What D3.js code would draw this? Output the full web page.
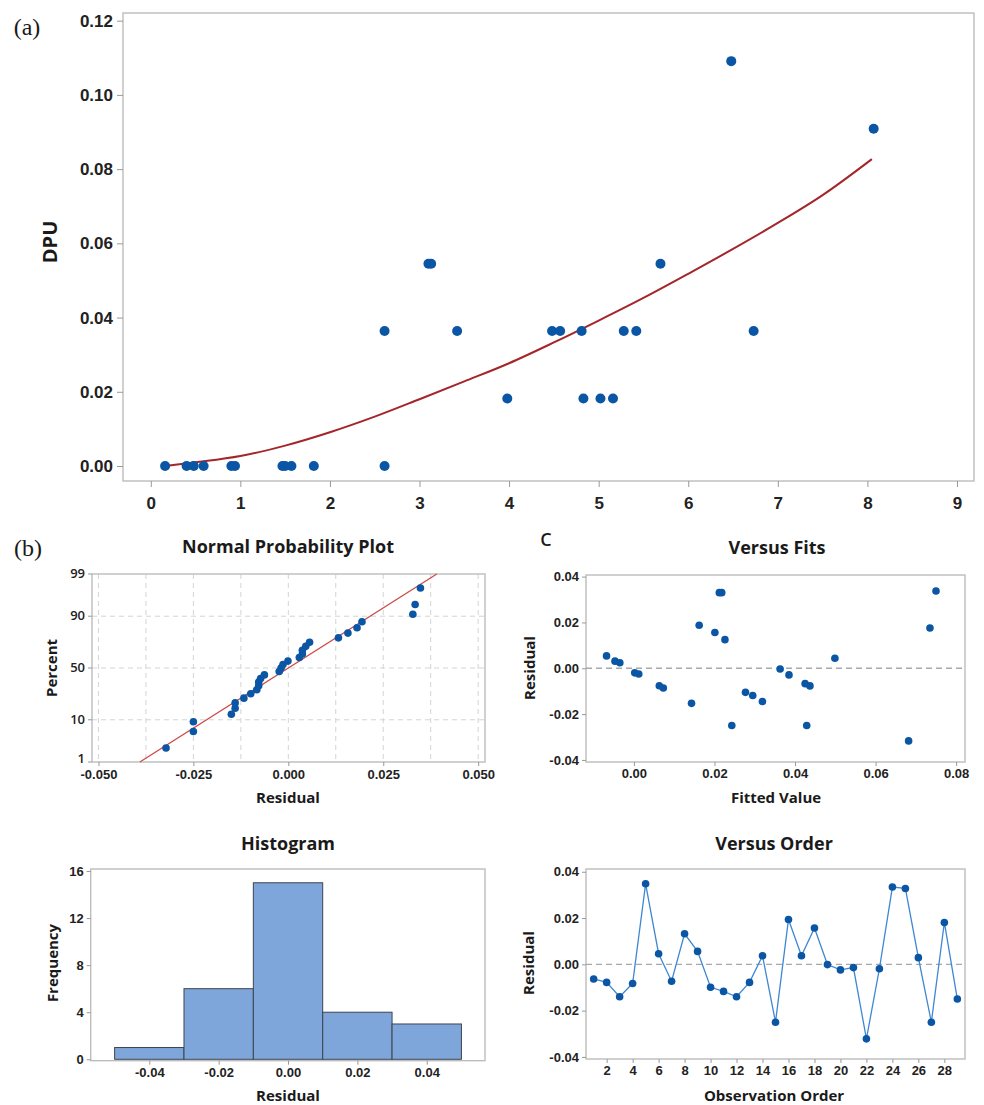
<!DOCTYPE html>
<html>
<head>
<meta charset="utf-8">
<script src="https://cdn.jsdelivr.net/npm/d3@7"></script>
<style>
  body { margin: 0; background: #fff; }
  svg  { display: block; font-family: "Open Sans", "Noto Sans", sans-serif; }
  .tick text { fill: #222; font-weight: 600; }
  .tick line { stroke: #999; }
</style>
</head>
<body>
<svg id="fig" width="984" height="1105"></svg>
<script>
/* ── Data ───────────────────────────────────────────── */
// (a) DPU scatter
const dpuX = [0.16, 0.40, 0.48, 0.59, 0.90, 0.94, 1.47, 1.50, 1.57, 1.82, 2.61, 2.61, 3.10, 3.13,
              3.42, 3.98, 4.48, 4.57, 4.81, 4.83, 5.02, 5.16, 5.28, 5.42, 5.69, 6.48, 6.73, 8.07];
const dpuY = [0, 0, 0, 0, 0, 0, 0, 0, 0, 0, 0, 0.0364, 0.0545, 0.0545,
              0.0364, 0.0182, 0.0364, 0.0364, 0.0364, 0.0182, 0.0182, 0.0182, 0.0364, 0.0364, 0.0545, 0.1091, 0.0364, 0.0909];
// fitted curve (a)
const curveX = [0.16, 0.5, 1, 1.5, 2, 2.5, 3, 3.5, 4, 4.5, 5, 5.5, 6, 6.5, 7, 7.5, 8.05];
const curveY = [0.0000, 0.0010, 0.0027, 0.0055, 0.0091, 0.0133, 0.0180, 0.0228, 0.0277,
                0.0333, 0.0392, 0.0453, 0.0518, 0.0585, 0.0655, 0.0730, 0.0827];
const xTicksA = [0, 1, 2, 3, 4, 5, 6, 7, 8, 9];
const yTicksA = [0, 0.02, 0.04, 0.06, 0.08, 0.10, 0.12];

// residuals in observation order
const residOrder = [-0.0063, -0.0078, -0.0140, -0.0083, 0.0348, 0.0046, -0.0073, 0.0132, 0.0056, -0.0099,
                    -0.0117, -0.0140, -0.0078, 0.0037, -0.0250, 0.0194, 0.0037, 0.0157, -0.0001, -0.0024,
                    -0.0014, -0.0322, -0.0019, 0.0334, 0.0328, 0.0029, -0.0250, 0.0181, -0.0150];

// normal probability plot fit line (residual at 1% and 99%)
const probLineR = [-0.0391, 0.0391];
const probLineP = [1, 99];
const probPctTicks = [1, 10, 50, 90, 99];
const probGridPct  = [10, 50, 90];
const probResTicks = [-0.05, -0.025, 0, 0.025, 0.05];

// versus fits
const fitsFitted = [-0.0068, -0.0047, -0.0035, 0.0002, 0.0012, 0.0063, 0.0073, 0.0143, 0.0162, 0.0201,
                    0.0212, 0.0218, 0.0226, 0.0243, 0.0277, 0.0295, 0.0319, 0.0363, 0.0385, 0.0425,
                    0.0429, 0.0437, 0.0499, 0.0682, 0.0735, 0.0750];
const fitsResid  = [0.0054, 0.0031, 0.0024, -0.0020, -0.0025, -0.0076, -0.0086, -0.0153, 0.0188, 0.0156,
                    0.0330, 0.0330, 0.0125, -0.0250, -0.0105, -0.0119, -0.0145, -0.0003, -0.0029, -0.0067,
                    -0.0250, -0.0077, 0.0044, -0.0317, 0.0176, 0.0337];
const fitsXTicks = [0, 0.02, 0.04, 0.06, 0.08];
const residTicks = [-0.04, -0.02, 0, 0.02, 0.04];

// histogram
const histEdges = [-0.05, -0.03, -0.01, 0.01, 0.03, 0.05];
const histCount = [1, 6, 15, 4, 3];
const histXTicks = [-0.04, -0.02, 0, 0.02, 0.04];
const histYTicks = [0, 4, 8, 12, 16];

// versus order
const orderTicks = d3.range(2, 30, 2);

/* ── Styles ─────────────────────────────────────────── */
const DOT   = '#0b55a5';
const FRAME = '#bdbdbd';
const SERIF = '"Liberation Serif", "DejaVu Serif", serif';
const svg   = d3.select('#fig');

svg.append('rect').attr('width', 984).attr('height', 1105).attr('fill', '#fff');

/* ── Helpers ────────────────────────────────────────── */
// inverse normal CDF (Acklam), used for the probability axis
function probit(p) {
  const a = [-3.969683028665376e+01, 2.209460984245205e+02, -2.759285104469687e+02, 1.383577518672690e+02, -3.066479806614716e+01, 2.506628277459239e+00];
  const b = [-5.447609879822406e+01, 1.615858368580409e+02, -1.556989798598866e+02, 6.680131188771972e+01, -1.328068155288572e+01];
  const c = [-7.784894002430293e-03, -3.223964580411365e-01, -2.400758277161838e+00, -2.549732539343734e+00, 4.374664141464968e+00, 2.938163982698783e+00];
  const d = [7.784695709041462e-03, 3.224671290700398e-01, 2.445134137142996e+00, 3.754408661907416e+00];
  const pl = 0.02425;
  let q, r;
  if (p < pl) {
    q = Math.sqrt(-2 * Math.log(p));
    return (((((c[0]*q+c[1])*q+c[2])*q+c[3])*q+c[4])*q+c[5]) / ((((d[0]*q+d[1])*q+d[2])*q+d[3])*q+1);
  }
  if (p <= 1 - pl) {
    q = p - 0.5; r = q * q;
    return (((((a[0]*r+a[1])*r+a[2])*r+a[3])*r+a[4])*r+a[5])*q / (((((b[0]*r+b[1])*r+b[2])*r+b[3])*r+b[4])*r+1);
  }
  q = Math.sqrt(-2 * Math.log(1 - p));
  return -(((((c[0]*q+c[1])*q+c[2])*q+c[3])*q+c[4])*q+c[5]) / ((((d[0]*q+d[1])*q+d[2])*q+d[3])*q+1);
}

function frame(x, y) {
  const [x0, x1] = x.range(), [y0, y1] = y.range();
  svg.append('rect')
    .attr('x', x0).attr('y', Math.min(y0, y1))
    .attr('width', x1 - x0).attr('height', Math.abs(y0 - y1))
    .attr('fill', 'none').attr('stroke', FRAME).attr('stroke-width', 1.4);
}

function axes(x, y, xt, yt, xfmt, yfmt, fs, tick) {
  const bottom = d3.max(y.range()), left = x.range()[0];
  const gx = svg.append('g').attr('transform', `translate(0,${bottom})`)
    .call(d3.axisBottom(x).tickValues(xt).tickFormat(xfmt).tickSize(tick).tickPadding(fs > 15 ? 10 : 3));
  const gy = svg.append('g').attr('transform', `translate(${left},0)`)
    .call(d3.axisLeft(y).tickValues(yt).tickFormat(yfmt).tickSize(tick).tickPadding(fs > 15 ? 4 : 3));
  [gx, gy].forEach(g => {
    g.select('.domain').remove();
    g.selectAll('text').style('font-size', fs + 'px').attr('font-family', null);
  });
  return { gx, gy };
}

function label(text, x, y, size, rot, family, weight) {
  svg.append('text')
    .attr('transform', `translate(${x},${y}) rotate(${rot || 0})`)
    .attr('text-anchor', 'middle')
    .style('font-size', size + 'px')
    .style('font-weight', weight || 700)
    .style('font-family', family || null)
    .attr('fill', '#1a1a1a')
    .text(text);
}

const f2 = d => d.toFixed(2);
const f3 = d => d.toFixed(3);

/* ── (a) DPU scatter with fitted curve ──────────────── */
function panelA() {
  const x = d3.scaleLinear().domain([-0.31, 9.19]).range([123, 974]);
  const y = d3.scaleLinear().domain([-0.00404, 0.12207]).range([481, 13]);
  frame(x, y);
  axes(x, y, xTicksA, yTicksA, d => d, f2, 17, 6);

  const pts = curveX.map((v, i) => [v, curveY[i]]);
  svg.append('path')
    .datum(pts)
    .attr('d', d3.line().x(d => x(d[0])).y(d => y(d[1])).curve(d3.curveMonotoneX))
    .attr('fill', 'none').attr('stroke', '#a3262a').attr('stroke-width', 2);

  svg.append('g').selectAll('circle')
    .data(dpuX.map((v, i) => [v, dpuY[i]]))
    .join('circle')
    .attr('cx', d => x(d[0])).attr('cy', d => y(d[1])).attr('r', 5)
    .attr('fill', DOT);

  label('DPU', 57, 242, 20, -90);
  label('(a)', 27, 35, 24, 0, SERIF, 400);
}

/* ── (b) Normal probability plot ────────────────────── */
function panelNormal() {
  const x = d3.scaleLinear().domain([-0.0517, 0.0518]).range([92, 485]);
  const z = d3.scaleLinear().domain([probit(0.01), probit(0.99)]).range([762, 574]);
  const y = p => z(probit(p / 100));

  // dashed grid
  const grid = svg.append('g').attr('stroke', '#d4d4d4').attr('stroke-dasharray', '5,4').attr('stroke-width', 1);
  grid.selectAll('.gv').data(d3.range(-0.05, 0.0501, 0.0125)).join('line')
    .attr('x1', d => x(d)).attr('x2', d => x(d)).attr('y1', 574).attr('y2', 762);
  grid.selectAll('.gh').data(probGridPct).join('line')
    .attr('x1', 92).attr('x2', 485).attr('y1', d => y(d)).attr('y2', d => y(d));

  frame(x, z);
  const gx = svg.append('g').attr('transform', 'translate(0,762)')
    .call(d3.axisBottom(x).tickValues(probResTicks).tickFormat(f3).tickSize(4).tickPadding(4));
  gx.select('.domain').remove();
  gx.selectAll('text').style('font-size', '13px').attr('font-family', null);

  // percent axis on a probit scale
  const gy = svg.append('g').attr('transform', 'translate(92,0)');
  probPctTicks.forEach(p => {
    const t = gy.append('g').attr('class', 'tick').attr('transform', `translate(0,${y(p)})`);
    t.append('line').attr('x2', -4);
    t.append('text').attr('x', -7).attr('dy', p === 1 ? '0.05em' : '0.32em').attr('text-anchor', 'end')
      .style('font-size', '13px').text(p);
  });

  // fit line
  svg.append('line')
    .attr('x1', x(probLineR[0])).attr('y1', y(probLineP[0]))
    .attr('x2', x(probLineR[1])).attr('y2', y(probLineP[1]))
    .attr('stroke', '#cc4a4a').attr('stroke-width', 1.3);

  const sorted = residOrder.slice().sort(d3.ascending);
  const n = sorted.length;
  svg.append('g').selectAll('circle')
    .data(sorted)
    .join('circle')
    .attr('cx', d => x(d))
    .attr('cy', (d, i) => y((i + 1 - 0.3) / (n + 0.4) * 100))
    .attr('r', 3.8).attr('fill', DOT);

  label('Normal Probability Plot', 288, 553, 18);
  label('Residual', 288, 803, 15);
  label('Percent', 57, 668, 15, -90);
  label('(b)', 28, 556, 24, 0, SERIF, 400);
}

/* ── Versus fits ────────────────────────────────────── */
function panelFits() {
  const x = d3.scaleLinear().domain([-0.0119, 0.0822]).range([586, 965]);
  const y = d3.scaleLinear().domain([-0.0409, 0.0407]).range([762, 575]);
  frame(x, y);
  axes(x, y, fitsXTicks, residTicks, f2, f2, 13, 4);

  svg.append('line')
    .attr('x1', 586).attr('x2', 965).attr('y1', y(0)).attr('y2', y(0))
    .attr('stroke', '#a8a8a8').attr('stroke-width', 1.3).attr('stroke-dasharray', '6,4');

  svg.append('g').selectAll('circle')
    .data(fitsFitted.map((v, i) => [v, fitsResid[i]]))
    .join('circle')
    .attr('cx', d => x(d[0])).attr('cy', d => y(d[1])).attr('r', 3.8)
    .attr('fill', DOT);

  label('Versus Fits', 777, 554, 18);
  label('Fitted Value', 776, 803, 15);
  label('Residual', 535, 668, 15, -90);
  label('C', 546, 546, 18, 0, null, 600);
}

/* ── Histogram ──────────────────────────────────────── */
function panelHist() {
  const x = d3.scaleLinear().domain([-0.0569, 0.0568]).range([90.7, 485]);
  const y = d3.scaleLinear().domain([-0.12, 16.17]).range([1060.7, 869]);
  frame(x, y);
  axes(x, y, histXTicks, histYTicks, f2, d => d, 13, 4);

  svg.append('g').selectAll('rect')
    .data(histCount)
    .join('rect')
    .attr('x', (d, i) => x(histEdges[i]))
    .attr('width', (d, i) => x(histEdges[i + 1]) - x(histEdges[i]))
    .attr('y', d => y(d))
    .attr('height', d => y(0) - y(d))
    .attr('fill', '#7ea6da').attr('stroke', '#3d4450').attr('stroke-width', 1);

  label('Histogram', 288, 850, 18);
  label('Residual', 288, 1101, 15);
  label('Frequency', 58, 963, 15, -90);
}

/* ── Versus order ───────────────────────────────────── */
function panelOrder() {
  const x = d3.scaleLinear().domain([0.41, 29.59]).range([586, 965]);
  const y = d3.scaleLinear().domain([-0.0409, 0.0412]).range([1059, 869]);
  frame(x, y);
  axes(x, y, orderTicks, residTicks, d => d, f2, 13, 4);

  svg.append('line')
    .attr('x1', 586).attr('x2', 965).attr('y1', y(0)).attr('y2', y(0))
    .attr('stroke', '#a8a8a8').attr('stroke-width', 1.3).attr('stroke-dasharray', '6,4');

  const pts = residOrder.map((v, i) => [i + 1, v]);
  svg.append('path')
    .datum(pts)
    .attr('d', d3.line().x(d => x(d[0])).y(d => y(d[1])))
    .attr('fill', 'none').attr('stroke', '#3f87d2').attr('stroke-width', 1.3);

  svg.append('g').selectAll('circle')
    .data(pts)
    .join('circle')
    .attr('cx', d => x(d[0])).attr('cy', d => y(d[1])).attr('r', 3.8)
    .attr('fill', DOT);

  label('Versus Order', 774, 850, 18);
  label('Observation Order', 774, 1101, 15);
  label('Residual', 534, 963, 15, -90);
}

panelA();
panelNormal();
panelFits();
panelHist();
panelOrder();
</script>
</body>
</html>
